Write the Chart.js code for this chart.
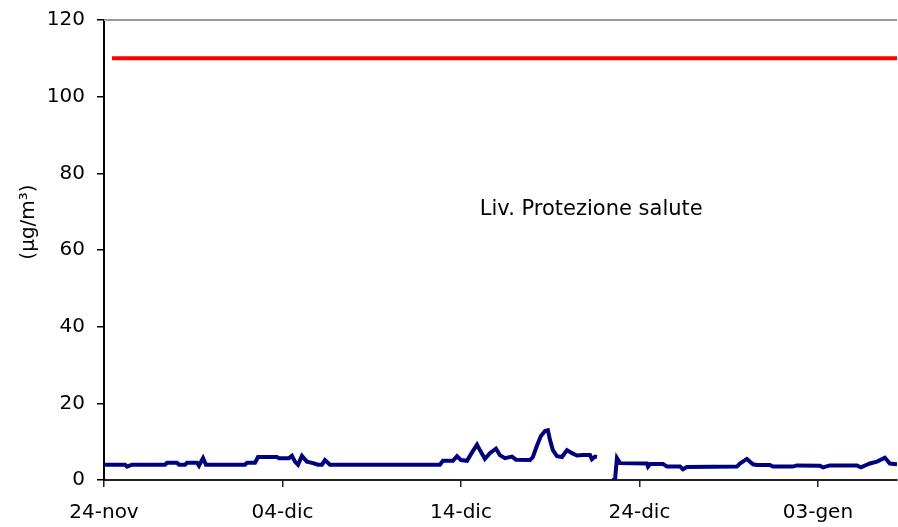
<!DOCTYPE html>
<html>
<head>
  <meta charset="UTF-8">
  <title>Liv. Protezione salute</title>
  <script src="https://cdn.jsdelivr.net/npm/chart.js@4.4.1/dist/chart.umd.min.js"></script>
  <style>
    body { margin: 0; background: #fff; }
    #wrap { width: 898px; height: 527px; }
  </style>
</head>
<body>
  <div id="wrap"><canvas id="chart" width="898" height="527"></canvas></div>

  <script>
    // days counted from 24-nov
    const tickDays = [0, 10, 20, 30, 40];
    const tickLabels = ['24-nov', '04-dic', '14-dic', '24-dic', '03-gen'];
    const lastDay = 44.43;

    // measured concentration (µg/m3), null = missing data
    const blueDays = [
      0, 1.18, 1.29, 1.57, 3.42, 3.53, 4.09, 4.2, 4.54, 4.65, 5.21, 5.32, 5.55, 5.71,
      7.9, 8.01, 8.46, 8.63, 9.69, 9.8, 10.36, 10.53, 10.7, 10.87, 11.09, 11.37, 11.71,
      11.99, 12.21, 12.38, 12.66, 18.82, 18.99, 19.55, 19.78, 20.0, 20.34, 20.62, 20.9,
      21.06, 21.34, 21.62, 21.96, 22.18, 22.46, 22.86, 23.08, 23.87, 24.03, 24.26, 24.48,
      24.71, 24.87, 24.99, 25.15, 25.38, 25.66, 25.94, 26.22, 26.5, 26.83, 27.23, 27.34,
      27.51, 27.62, 28.0, 28.46, 28.63, 28.74, 28.91, 30.42, 30.48, 30.6, 31.32, 31.54,
      32.27, 32.44, 32.66, 35.46, 35.63, 36.02, 36.36, 36.58, 37.31, 37.48, 38.6, 38.82,
      40.11, 40.28, 40.67, 42.18, 42.41, 42.91, 43.31, 43.75, 44.03, 44.43
    ];
    const blueValues = [
      4, 4, 3.5, 4, 4, 4.5, 4.5, 4, 4, 4.5, 4.5, 3.7, 5.7, 4,
      4, 4.5, 4.5, 6, 6, 5.7, 5.7, 6.3, 4.8, 4, 6.3, 4.8, 4.4,
      4, 4, 5.2, 4, 4, 5, 5, 6.2, 5.2, 5, 7.2, 9.2,
      7.8, 5.5, 7, 8.2, 6.5, 5.7, 6.1, 5.3, 5.2, 6, 9, 11.5,
      12.8, 13, 10.4, 7.8, 6.2, 6, 7.8, 7, 6.4, 6.5, 6.5, 5.4,
      6.1, 6, null, 0, 0, 5.7, 4.4, 4.3, 3.5, 4.2, 4.2, 3.5,
      3.5, 2.8, 3.4, 3.5, 4.3, 5.5, 4.1, 3.9, 3.9, 3.5, 3.5, 3.8,
      3.7, 3.3, 3.8, 3.8, 3.3, 4.3, 4.8, 5.8, 4.3, 4.1
    ];

    // health protection level
    const redDays = [0.45, 44.43];
    const redValues = [110, 110];

    const blueData = blueDays.map((d, i) => ({ x: d, y: blueValues[i] }));
    const redData = redDays.map((d, i) => ({ x: d, y: redValues[i] }));

    const fontFamily = '"DejaVu Sans", Verdana, sans-serif';

    // extra texts: y title and the level label, plus the grey top border
    const extras = {
      id: 'extras',
      afterDraw(chart) {
        const ctx = chart.ctx;
        const area = chart.chartArea;
        const xs = chart.scales.x;
        const ys = chart.scales.y;
        ctx.save();
        ctx.strokeStyle = '#999';
        ctx.lineWidth = 2;
        ctx.beginPath();
        ctx.moveTo(area.left, area.top);
        ctx.lineTo(area.right, area.top);
        ctx.stroke();

        ctx.fillStyle = '#000';
        ctx.font = '21px ' + fontFamily;
        ctx.textAlign = 'center';
        ctx.textBaseline = 'middle';
        ctx.fillText('Liv. Protezione salute', xs.getPixelForValue(27.3), ys.getPixelForValue(70.5));

        ctx.translate(29, 222);
        ctx.rotate(-Math.PI / 2);
        ctx.font = '20px ' + fontFamily;
        ctx.fillText('(µg/m³)', 0, 0);
        ctx.restore();
      }
    };

    new Chart(document.getElementById('chart'), {
      type: 'line',
      data: {
        datasets: [
          {
            label: 'Liv. Protezione salute',
            data: redData,
            borderColor: '#ff0000',
            borderWidth: 4,
            pointRadius: 0,
            tension: 0
          },
          {
            label: 'Concentrazione',
            data: blueData,
            borderColor: '#000080',
            borderWidth: 4,
            pointRadius: 0,
            tension: 0,
            spanGaps: false
          }
        ]
      },
      options: {
        responsive: false,
        animation: false,
        layout: { padding: { top: 20, right: 1, left: 0, bottom: 0 } },
        plugins: {
          legend: { display: false },
          tooltip: { enabled: false }
        },
        scales: {
          x: {
            type: 'linear',
            min: 0,
            max: lastDay,
            afterBuildTicks: scale => { scale.ticks = tickDays.map(v => ({ value: v })); },
            afterFit: scale => {
              scale.height = 47;
              scale.paddingLeft = 0;
              scale.paddingRight = 0;
            },
            ticks: {
              color: '#000',
              font: { family: fontFamily, size: 20 },
              padding: 14,
              maxRotation: 0,
              autoSkip: false,
              callback: value => tickLabels[tickDays.indexOf(value)]
            },
            grid: { drawOnChartArea: false, tickLength: 7, color: '#222', lineWidth: 1.5 },
            border: { color: '#222', width: 2 }
          },
          y: {
            min: 0,
            max: 120,
            afterFit: scale => {
              scale.width = 104;
              scale.paddingTop = 0;
              scale.paddingBottom = 0;
            },
            ticks: {
              stepSize: 20,
              color: '#000',
              font: { family: fontFamily, size: 20 },
              padding: 12
            },
            grid: { drawOnChartArea: false, tickLength: 7, color: '#000', lineWidth: 1.5 },
            border: { color: '#000', width: 2 }
          }
        }
      },
      plugins: [extras]
    });
  </script>
</body>
</html>
